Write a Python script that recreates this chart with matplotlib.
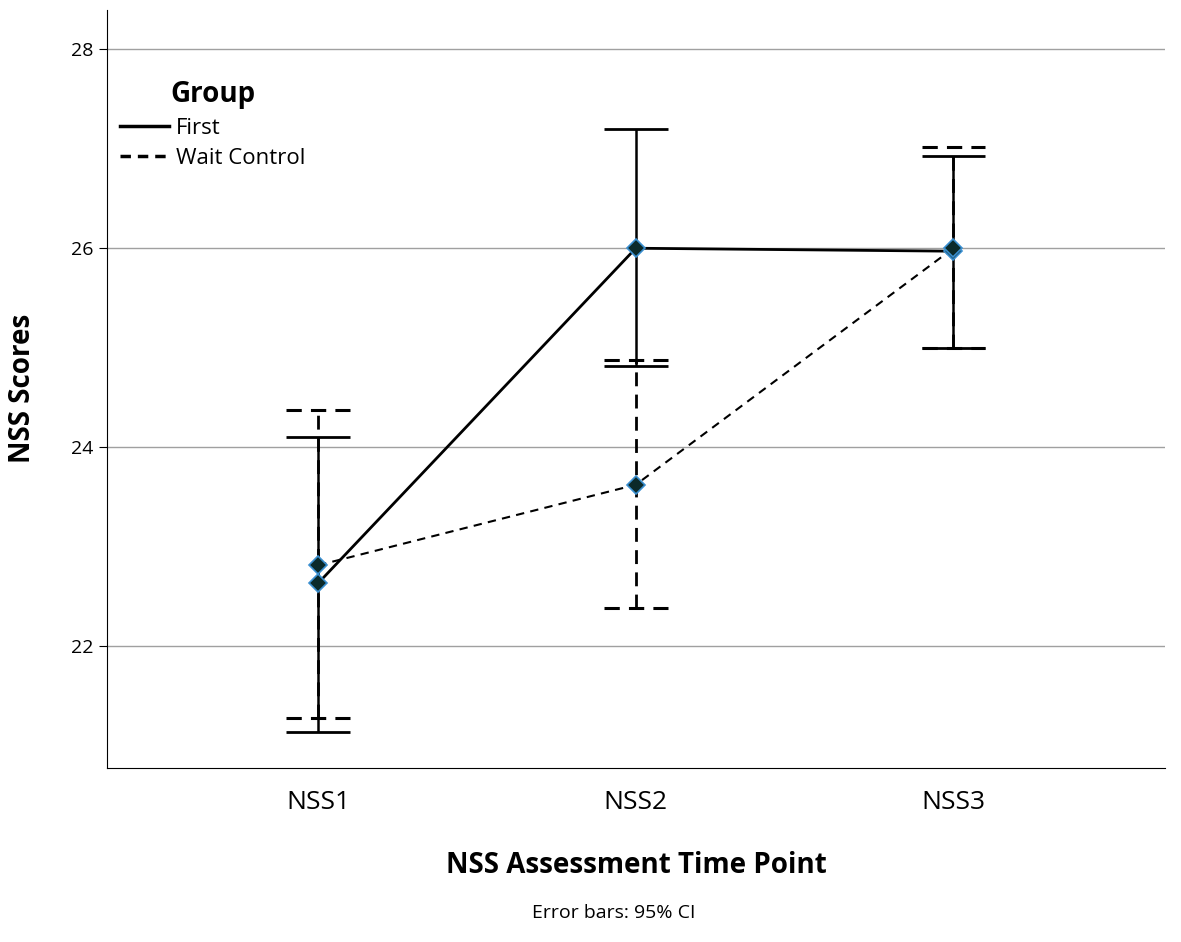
import matplotlib
matplotlib.use("Agg")
import matplotlib.pyplot as plt
from matplotlib.lines import Line2D

categories = ["NSS1", "NSS2", "NSS3"]
first_mean = [22.63, 26.0, 25.97]
first_lo = [21.13, 24.81, 25.0]
first_hi = [24.10, 27.20, 26.93]
wait_mean = [22.81, 23.62, 26.0]
wait_lo = [21.27, 22.38, 25.0]
wait_hi = [24.37, 24.88, 27.02]

plt.rcParams['font.family'] = ['Open Sans', 'DejaVu Sans']
fig = plt.figure(figsize=(11.81, 9.42), dpi=100)
ax = fig.add_axes([0.0906, 0.1847, 0.896, 0.805])
x = [1, 2, 3]

for i in x:
    ax.vlines(i, wait_lo[i-1], wait_hi[i-1], colors='black', linestyles=(0, (5, 3)), lw=2, zorder=3)
    ax.hlines([wait_lo[i-1], wait_hi[i-1]], i-0.1, i+0.1, colors='black', linestyles=(0, (5, 3)), lw=2.2, zorder=3)
    ax.vlines(i, first_lo[i-1], first_hi[i-1], colors='black', lw=1.8, zorder=3)
    ax.hlines([first_lo[i-1], first_hi[i-1]], i-0.1, i+0.1, colors='black', lw=2, zorder=3)

ax.plot(x, first_mean, color='black', lw=2, zorder=4)
ax.plot(x, wait_mean, color='black', lw=1.5, ls=(0, (4, 3)), zorder=4)
for m in (first_mean, wait_mean):
    ax.plot(x, m, ls='none', marker='D', ms=9, mfc='#0b2a2a', mec='#3a8fd0', mew=1.2, zorder=5)

ax.set_xlim(0.335, 3.667)
ax.set_ylim(20.77, 28.4)
ax.set_yticks([22, 24, 26, 28])
ax.set_xticks(x)
ax.set_xticklabels(categories, fontsize=19)
ax.tick_params(axis='y', labelsize=14, length=6)
ax.tick_params(axis='x', length=0, pad=16)
ax.yaxis.grid(True, color='#a0a0a0', lw=1)
ax.set_axisbelow(True)
for s in ('top', 'right'):
    ax.spines[s].set_visible(False)
ax.set_ylabel("NSS Scores", fontsize=20, fontweight='bold', labelpad=25)
ax.set_xlabel("NSS Assessment Time Point", fontsize=20, fontweight='bold', labelpad=26)

handles = [Line2D([], [], color='black', lw=2.5),
           Line2D([], [], color='black', lw=2.5, ls=(0, (3, 2)))]
leg = ax.legend(handles, ["First", "Wait Control"], title="Group", loc='upper left',
                bbox_to_anchor=(0.0, 0.925), frameon=False, fontsize=16,
                handlelength=2.2, handletextpad=0.3, borderaxespad=0.2,
                labelspacing=0.4)
leg.get_title().set_fontweight('bold')
leg.get_title().set_fontsize(20)

fig.text(0.52, 0.025, "Error bars: 95% CI", ha='center', fontsize=14)
fig.savefig("out.png", dpi=100)
